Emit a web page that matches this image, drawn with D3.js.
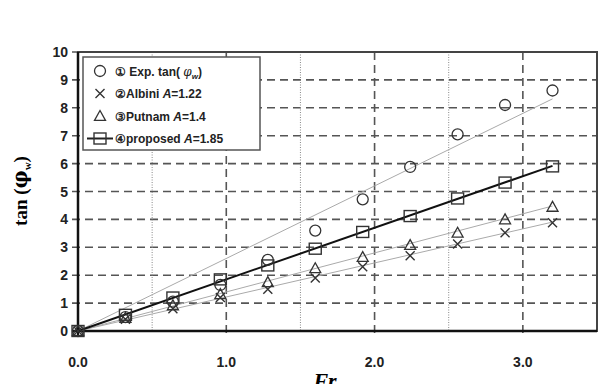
<html>
<head>
<script src="https://d3js.org/d3.v7.min.js"></script>
<style>
  body { margin: 0; background: #fff; }
  text { font-family: "Liberation Sans", Arial, sans-serif; }
</style>
</head>
<body>
<svg width="605" height="384" id="chart"></svg>
<script>
// Froude numbers (x) and measured / model values of tan(phi_w)
var fr = [0, 0.32, 0.64, 0.96, 1.28, 1.6, 1.92, 2.24, 2.56, 2.88, 3.2];
var expVals = [0, 0.5, 1.05, 1.65, 2.55, 3.6, 4.72, 5.88, 7.05, 8.1, 8.62];
var albiniVals = [0, 0.42, 0.8, 1.2, 1.5, 1.9, 2.3, 2.7, 3.12, 3.52, 3.88];
var putnamVals = [0, 0.47, 0.92, 1.32, 1.75, 2.25, 2.65, 3.08, 3.52, 4.0, 4.45];
var proposedVals = [0, 0.58, 1.2, 1.85, 2.35, 2.95, 3.55, 4.12, 4.75, 5.32, 5.9];
// slopes of the fitted lines (exp, Albini, Putnam, proposed)
var slopes = [2.6, 1.22, 1.4, 1.85];
var xTicks = [0, 1, 2, 3];
var xMinor = [0.5, 1.5, 2.5];
var yTicks = [0, 1, 2, 3, 4, 5, 6, 7, 8, 9, 10];

(function() {
var svg = d3.select("#chart");
var pLeft = 78, pRight = 597, pTop = 52, pBottom = 331;

var x = d3.scaleLinear().domain([0, 3.5]).range([pLeft, pRight]);
var y = d3.scaleLinear().domain([0, 10]).range([pBottom, pTop]);

// grid
svg.append("g").selectAll("line").data(yTicks.slice(1)).join("line")
  .attr("x1", pLeft - 6).attr("x2", pRight)
  .attr("y1", d => y(d)).attr("y2", d => y(d))
  .attr("stroke", "#555").attr("stroke-width", 1.6)
  .attr("stroke-dasharray", "8,5");
svg.append("g").selectAll("line").data(xTicks.slice(1)).join("line")
  .attr("x1", d => x(d)).attr("x2", d => x(d))
  .attr("y1", pTop).attr("y2", pBottom + 6)
  .attr("stroke", "#555").attr("stroke-width", 1.6)
  .attr("stroke-dasharray", "8,5");
svg.append("g").selectAll("line").data(xMinor).join("line")
  .attr("x1", d => x(d)).attr("x2", d => x(d))
  .attr("y1", pTop).attr("y2", pBottom)
  .attr("stroke", "#888").attr("stroke-width", 1)
  .attr("stroke-dasharray", "1,1.5");

// frame
svg.append("rect").attr("x", pLeft).attr("y", pTop)
  .attr("width", pRight - pLeft).attr("height", pBottom - pTop)
  .attr("fill", "none").attr("stroke", "#444").attr("stroke-width", 2);
svg.append("line").attr("x1", pLeft).attr("x2", pLeft).attr("y1", pTop).attr("y2", pBottom)
  .attr("stroke", "#111").attr("stroke-width", 2.5);
svg.append("line").attr("x1", pLeft - 6).attr("x2", pRight).attr("y1", pBottom).attr("y2", pBottom)
  .attr("stroke", "#111").attr("stroke-width", 2.5);
svg.append("line").attr("x1", pLeft).attr("x2", pLeft).attr("y1", pBottom).attr("y2", pBottom + 6)
  .attr("stroke", "#111").attr("stroke-width", 2);

// tick labels
svg.append("g").selectAll("text").data(yTicks).join("text")
  .attr("x", 68).attr("y", d => y(d) + 5)
  .attr("text-anchor", "end").attr("font-size", 14).attr("font-weight", "bold")
  .attr("fill", "#222").text(d => d);
svg.append("g").selectAll("text").data(xTicks).join("text")
  .attr("x", d => x(d)).attr("y", 367)
  .attr("text-anchor", "middle").attr("font-size", 14).attr("font-weight", "bold")
  .attr("fill", "#222").text(d => d.toFixed(1));

// axis titles
svg.append("text").attr("transform", "translate(27,191) rotate(-90)")
  .attr("text-anchor", "middle").attr("font-size", 19).attr("font-weight", "bold")
  .style("font-family", "'Liberation Serif', 'Times New Roman', serif")
  .html('tan (<tspan font-family="DejaVu Serif" font-size="20">φ</tspan><tspan font-size="11" dy="4">w</tspan><tspan dy="-4">)</tspan>');
svg.append("text").attr("x", 325).attr("y", 388)
  .attr("text-anchor", "middle").attr("font-size", 22).attr("font-weight", "bold")
  .attr("font-style", "italic")
  .style("font-family", "'Liberation Serif', 'Times New Roman', serif")
  .text("Fr");

// fitted lines
var fitColors = ["#aaa", "#aaa", "#aaa", "#111"];
var fitWidths = [1, 1, 1, 2];
slopes.forEach(function(s, i) {
  svg.append("line")
    .attr("x1", x(0)).attr("y1", y(0))
    .attr("x2", x(3.2)).attr("y2", y(s * 3.2))
    .attr("stroke", fitColors[i]).attr("stroke-width", fitWidths[i]);
});

// markers
function drawMarker(g, kind, cx, cy) {
  if (kind === "circle") {
    g.append("circle").attr("cx", cx).attr("cy", cy).attr("r", 5.5)
      .attr("fill", "none").attr("stroke", "#333").attr("stroke-width", 1.3);
  } else if (kind === "cross") {
    var s = 4.5;
    g.append("path").attr("d", "M" + (cx - s) + "," + (cy - s) + "L" + (cx + s) + "," + (cy + s) +
      "M" + (cx - s) + "," + (cy + s) + "L" + (cx + s) + "," + (cy - s))
      .attr("stroke", "#333").attr("stroke-width", 1.4).attr("fill", "none");
  } else if (kind === "triangle") {
    var h = 5.5;
    g.append("path").attr("d", "M" + cx + "," + (cy - h) + "L" + (cx + h) + "," + (cy + h * 0.8) +
      "L" + (cx - h) + "," + (cy + h * 0.8) + "Z")
      .attr("fill", "none").attr("stroke", "#333").attr("stroke-width", 1.3);
  } else {
    g.append("rect").attr("x", cx - 6).attr("y", cy - 5.5).attr("width", 12).attr("height", 11)
      .attr("fill", "none").attr("stroke", "#333").attr("stroke-width", 1.4);
  }
}

var series = [
  { kind: "cross", vals: albiniVals },
  { kind: "triangle", vals: putnamVals },
  { kind: "square", vals: proposedVals },
  { kind: "circle", vals: expVals }
];
var mk = svg.append("g");
series.forEach(function(s) {
  s.vals.forEach(function(v, i) { drawMarker(mk, s.kind, x(fr[i]), y(v)); });
});

// legend
var lg = svg.append("g");
lg.append("rect").attr("x", 83).attr("y", 57).attr("width", 177).attr("height", 93)
  .attr("fill", "#fff").attr("stroke", "#555").attr("stroke-width", 1.5);
var legendKinds = ["circle", "cross", "triangle", "square"];
var legendLabels = [
  '① Exp. tan( <tspan font-style="italic" font-weight="normal" font-family="DejaVu Serif">φ</tspan><tspan font-size="8" dy="3" font-style="italic">w</tspan><tspan dy="-3">)</tspan>',
  '②Albini <tspan font-style="italic">A</tspan>=1.22',
  '③Putnam <tspan font-style="italic">A</tspan>=1.4',
  '④proposed <tspan font-style="italic">A</tspan>=1.85'
];
legendKinds.forEach(function(k, i) {
  var ry = 71 + i * 22.5;
  if (k === "square") {
    lg.append("line").attr("x1", 87).attr("x2", 113).attr("y1", ry).attr("y2", ry)
      .attr("stroke", "#222").attr("stroke-width", 2);
  }
  drawMarker(lg, k, 100, ry);
  lg.append("text").attr("x", 115).attr("y", ry + 4.5)
    .attr("font-size", 12).attr("font-weight", "bold").attr("fill", "#222")
    .html(legendLabels[i]);
});
})();
</script>
</body>
</html>
